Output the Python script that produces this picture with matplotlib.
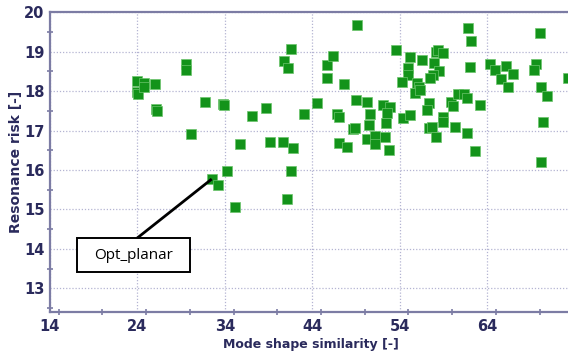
import matplotlib
matplotlib.use("Agg")
import matplotlib.pyplot as plt
from matplotlib.patches import Rectangle
from matplotlib.ticker import MultipleLocator

# Design candidates: mode shape similarity vs. resonance risk
similarity = [
    23.95, 24.0, 24.1, 24.8, 24.8, 26.0, 26.1, 26.2, 29.5, 29.5,
    30.1, 31.7, 33.8, 33.9, 34.3, 35.7, 37.1, 38.7, 39.2, 40.6,
    40.8, 41.2, 41.6, 41.8, 41.6, 41.1, 32.5, 33.2, 35.2, 43.1,
    44.5, 45.7, 46.4, 45.7, 47.6, 49.1, 46.8, 47.1, 49.0, 50.3,
    50.6, 50.5, 48.6, 48.9, 47.0, 48.0, 50.3, 51.2, 51.2, 52.3,
    52.8, 52.1, 52.9, 52.6, 52.4, 53.6, 55.2, 55.0, 54.9, 54.3,
    56.0, 56.2, 55.8, 56.3, 56.6, 57.9, 58.2, 58.4, 59.0, 58.5,
    57.8, 57.5, 54.4, 55.2, 57.3, 57.1, 57.4, 57.7, 58.1, 58.9,
    59.0, 59.9, 60.1, 60.3, 60.7, 61.4, 61.7, 61.8, 62.2, 62.0,
    61.7, 63.2, 62.6, 64.3, 64.9, 65.6, 66.2, 66.9, 66.4, 70.1,
    69.6, 69.3, 70.2, 70.8, 70.4, 70.2, 73.3,
]
risk = [
    18.25, 17.97, 17.92, 18.20, 18.10, 18.17, 17.54, 17.49, 18.68, 18.53,
    16.91, 17.72, 17.67, 17.64, 15.97, 16.65, 17.36, 17.56, 16.71, 16.71,
    18.76, 18.58, 19.06, 16.56, 15.97, 15.26, 15.77, 15.62, 15.05, 17.41,
    17.69, 18.66, 18.90, 18.33, 18.17, 19.68, 17.43, 17.34, 17.77, 17.71,
    17.41, 17.13, 17.03, 17.06, 16.68, 16.58, 16.78, 16.86, 16.65, 16.83,
    16.50, 17.64, 17.60, 17.44, 17.18, 19.04, 18.86, 18.58, 18.40, 18.22,
    18.20, 18.10, 17.95, 18.02, 18.78, 18.71, 18.99, 19.04, 18.96, 18.50,
    18.40, 18.33, 17.31, 17.39, 17.69, 17.51, 17.06, 17.08, 16.83, 17.34,
    17.21, 17.72, 17.62, 17.10, 17.92, 17.92, 17.82, 19.60, 19.27, 18.61,
    16.93, 17.64, 16.48, 18.68, 18.53, 18.30, 18.63, 18.43, 18.10, 19.47,
    18.68, 18.53, 18.10, 17.87, 17.21, 16.20, 18.33,
]

# Highlighted design
opt_label = "Opt_planar"
opt_similarity = 32.5
opt_risk = 15.77

x_ticks = [14, 24, 34, 44, 54, 64]
y_ticks = [13, 14, 15, 16, 17, 18, 19, 20]

navy = "#2a2a5c"
spine_col = "#7c7ca4"
grid_col = "#b4b4d2"
green = "#13931a"

fig = plt.figure(figsize=(5.68, 3.57), dpi=100)
ax = fig.add_axes([0.088, 0.126, 0.919, 0.840])

ax.scatter(similarity, risk, marker="s", s=52, color=green,
           edgecolors="#6cc46c", linewidths=0.5, zorder=3)

ax.set_xlim(14, 73.7)
ax.set_ylim(12.4, 20)
ax.set_xticks(x_ticks)
ax.set_yticks(y_ticks)
ax.xaxis.set_minor_locator(MultipleLocator(5))
ax.yaxis.set_minor_locator(MultipleLocator(0.5))

ax.grid(True, which="major", linestyle=(0, (1, 1.5)), color=grid_col, linewidth=0.9)
ax.set_axisbelow(True)

for side in ("left", "bottom", "top"):
    ax.spines[side].set_color(spine_col)
    ax.spines[side].set_linewidth(1.6)
ax.spines["right"].set_visible(False)

ax.tick_params(which="both", direction="inout", color=spine_col)
ax.tick_params(which="major", length=0)
ax.tick_params(which="minor", length=4.5, width=1.2)
ax.tick_params(axis="x", which="major", pad=5)
ax.tick_params(axis="y", which="major", pad=4)
ax.tick_params(which="both", top=False, right=False)

for lbl in ax.get_xticklabels() + ax.get_yticklabels():
    lbl.set_fontweight("bold")
    lbl.set_fontsize(10.5)
    lbl.set_color(navy)

ax.set_xlabel("Mode shape similarity [-]", fontsize=9, fontweight="bold",
              color=navy, labelpad=3)
ax.set_ylabel("Resonance risk [-]", fontsize=10, fontweight="bold",
              color=navy, labelpad=1)

# Callout for the highlighted design
box_x0, box_x1 = 17.1, 30.0
box_y0, box_y1 = 13.41, 14.27
ax.plot([opt_similarity, 23.95], [opt_risk, box_y1], color="black",
        linewidth=2, zorder=4, solid_capstyle="butt")
ax.add_patch(Rectangle((box_x0, box_y0), box_x1 - box_x0, box_y1 - box_y0,
                       facecolor="white", edgecolor="black", linewidth=1.4,
                       zorder=5))
ax.text((box_x0 + box_x1) / 2, (box_y0 + box_y1) / 2, opt_label,
        ha="center", va="center", fontsize=11, family="Open Sans",
        color="black", zorder=6)

fig.savefig("out.png", dpi=100)
